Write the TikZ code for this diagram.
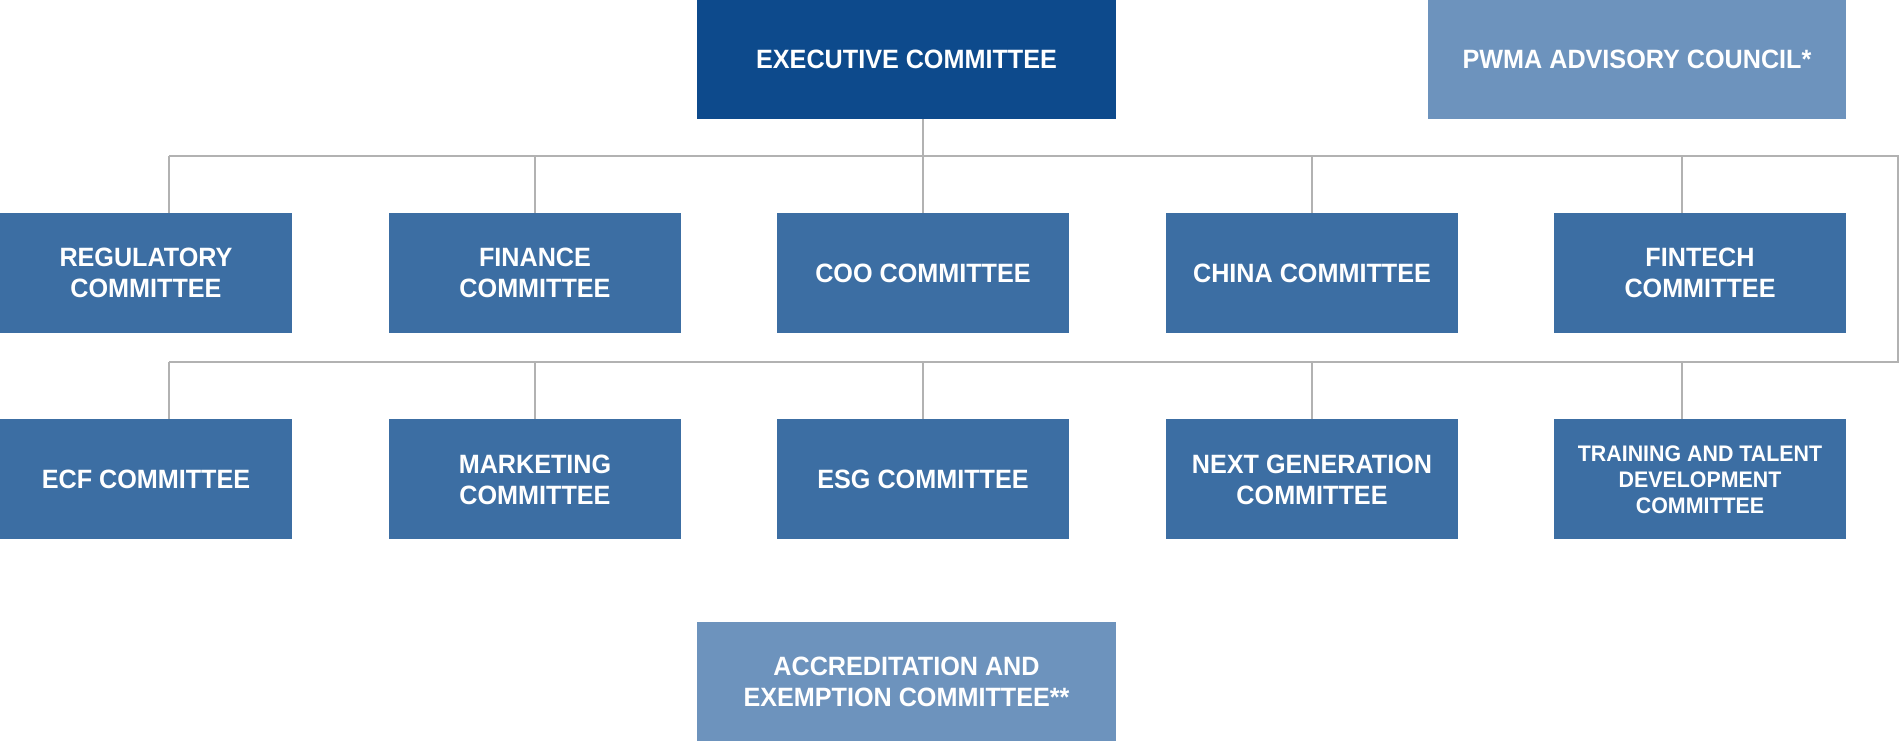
\documentclass[tikz,border=0pt]{standalone}
\usepackage{fontspec}
\setmainfont{Liberation Sans}[FakeStretch=0.95]
\usetikzlibrary{positioning}
\definecolor{execblue}{RGB}{13,74,140}
\definecolor{midblue}{RGB}{60,110,163}
\definecolor{paleblue}{RGB}{109,147,189}
\definecolor{linegray}{RGB}{178,178,178}

\begin{document}
\begin{tikzpicture}[x=1pt, y=-1pt,
        box/.style={fill=midblue, text=white, font=\bfseries\fontsize{26.5}{31}\selectfont, align=center, minimum width=292pt, minimum height=120pt, inner sep=0pt},
        bus/.style={draw=linegray, line width=2pt},
        stem/.style={draw=linegray, line width=1.5pt}]
        \useasboundingbox (0,0) rectangle (1900,741);

        \node[box, fill=execblue, minimum width=419pt, minimum height=119pt] (exec) at (906.5,59.5) {EXECUTIVE COMMITTEE};
        \node[box, fill=paleblue, minimum width=418pt, minimum height=119pt] (pwma) at (1637,59.5) {PWMA ADVISORY COUNCIL*};

        \node[box] (reg) at (146,273) {REGULATORY\\COMMITTEE};
        \node[box] (fin) at (535,273) {FINANCE\\COMMITTEE};
        \node[box] (coo) at (923,273) {COO COMMITTEE};
        \node[box] (china) at (1312,273) {CHINA COMMITTEE};
        \node[box] (fint) at (1700,273) {FINTECH\\COMMITTEE};

        \node[box, below=86pt of reg] (ecf) {ECF COMMITTEE};
        \node[box, below=86pt of fin] (mkt) {MARKETING\\COMMITTEE};
        \node[box, below=86pt of coo] (esg) {ESG COMMITTEE};
        \node[box, below=86pt of china] (nextgen) {NEXT GENERATION\\COMMITTEE};
        \node[box, below=86pt of fint, font=\bfseries\fontsize{22.5}{26}\selectfont] (train) {TRAINING AND TALENT\\DEVELOPMENT\\COMMITTEE};

        \node[box, fill=paleblue, minimum width=419pt, minimum height=119pt] (accr) at (906.5,681.5) {ACCREDITATION AND\\EXEMPTION COMMITTEE**};

        % bus lines
        \coordinate (topL) at (169,156);
        \coordinate (topR) at (1898,156);
        \coordinate (botR) at (1898,362);
        \coordinate (botL) at (169,362);
        \draw[bus] (topL) -- (topR) -- (botR) -- (botL);

        \draw[stem] (exec.south -| coo.north) -- (coo.north);
        \draw[stem] (reg.north -| topL) -- (topL);
        \draw[stem] (fin.north) -- (fin.north |- topL);
        \draw[stem] (china.north) -- (china.north |- topL);
        \draw[stem] ([xshift=-18pt]fint.north) -- ([xshift=-18pt]fint.north |- topL);

        \draw[stem] (ecf.north -| botL) -- (botL);
        \draw[stem] (mkt.north) -- (mkt.north |- botL);
        \draw[stem] (esg.north) -- (esg.north |- botL);
        \draw[stem] (nextgen.north) -- (nextgen.north |- botL);
        \draw[stem] ([xshift=-18pt]train.north) -- ([xshift=-18pt]train.north |- botL);
    \end{tikzpicture}
\end{document}
